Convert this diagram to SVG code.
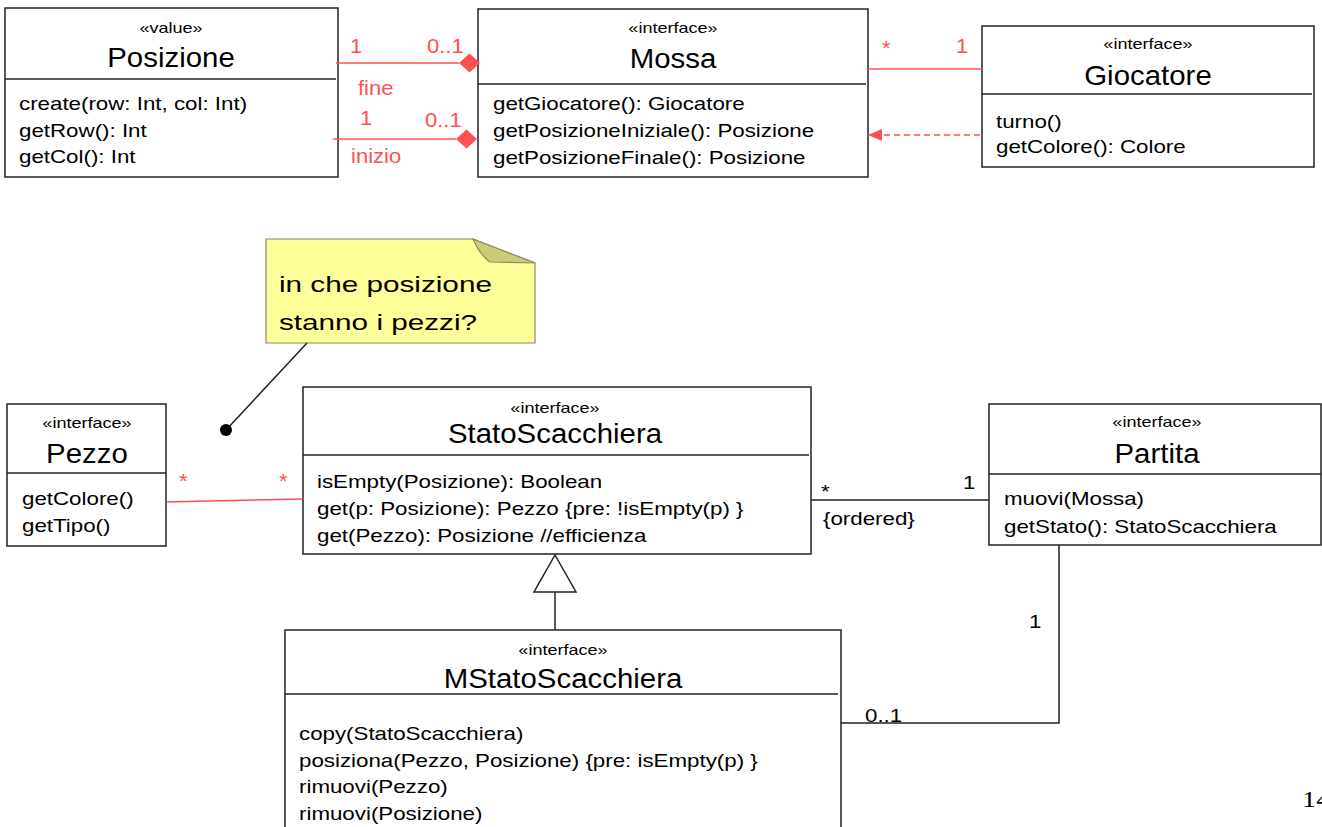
<svg xmlns="http://www.w3.org/2000/svg" width="1322" height="827" viewBox="0 0 1322 827">
  <style>
    text { font-family: "Liberation Sans", Arial, sans-serif; fill: #000; transform-box: fill-box; }
    .box { fill: #fff; stroke: #222; stroke-width: 1.5; }
    .div { stroke: #222; stroke-width: 1.5; }
    .st { font-size: 14px; text-anchor: middle; transform-origin: 50% 50%; transform: scaleX(1.29); }
    .nm { font-size: 27.5px; text-anchor: middle; transform-origin: 50% 50%; transform: scaleX(1.07); }
    .op { font-size: 18.6px; transform-origin: 0 50%; transform: scaleX(1.2); }
    .bl { font-size: 18.6px; transform-origin: 0 50%; transform: scaleX(1.2); }
    .rl { font-size: 19.5px; fill: #ff5050; transform-origin: 0 50%; transform: scaleX(1.13); }
    .nt { font-size: 22px; transform-origin: 0 50%; transform: scaleX(1.35); }
    .pg { font-family: "Liberation Serif", "Times New Roman", serif; font-size: 23.6px; transform-origin: 0 50%; transform: scaleX(1.2); }
    .red { stroke: #ff5050; stroke-width: 1.5; fill: none; }
    .blk { stroke: #222; stroke-width: 1.5; fill: none; }
  </style>
  <defs>
    <marker id="dep" viewBox="0 0 14 12" refX="14" refY="6" markerWidth="14" markerHeight="12" markerUnits="userSpaceOnUse" orient="auto">
      <path d="M0,0 L14,6 L0,12 Z" fill="#ff5050"/>
    </marker>
  </defs>

  <!-- Posizione -->
  <g id="posizione">
    <rect class="box" x="5" y="8" width="333" height="169"/>
    <line class="div" x1="5" y1="79" x2="336" y2="79"/>
    <text class="st" x="171" y="33">«value»</text>
    <text class="nm" x="171" y="67">Posizione</text>
    <text class="op" x="19" y="110">create(row: Int, col: Int)</text>
    <text class="op" x="19" y="137">getRow(): Int</text>
    <text class="op" x="19" y="163">getCol(): Int</text>
  </g>

  <!-- Mossa -->
  <g id="mossa">
    <rect class="box" x="478" y="9" width="390" height="168"/>
    <line class="div" x1="478" y1="84" x2="866" y2="84"/>
    <text class="st" x="673" y="33">«interface»</text>
    <text class="nm" x="673" y="68">Mossa</text>
    <text class="op" x="493" y="110">getGiocatore(): Giocatore</text>
    <text class="op" x="493" y="137">getPosizioneIniziale(): Posizione</text>
    <text class="op" x="493" y="164">getPosizioneFinale(): Posizione</text>
  </g>

  <!-- Giocatore -->
  <g id="giocatore">
    <rect class="box" x="982" y="26" width="332" height="141"/>
    <line class="div" x1="982" y1="94" x2="1312" y2="94"/>
    <text class="st" x="1148" y="49">«interface»</text>
    <text class="nm" x="1148" y="85">Giocatore</text>
    <text class="op" x="996" y="128">turno()</text>
    <text class="op" x="996" y="153">getColore(): Colore</text>
  </g>

  <!-- Nota -->
  <g id="nota">
    <path d="M266,239 H473 L535,263 V343 H266 Z" fill="#ffff99" stroke="#8a8a6a" stroke-width="1.2"/>
    <path d="M473,239 Q480,255 490,262 L535,263 Z" fill="#cccc77" stroke="#8a8a6a" stroke-width="1.2"/>
    <text class="nt" x="279" y="292">in che posizione</text>
    <text class="nt" x="279" y="330">stanno i pezzi?</text>
  </g>

  <!-- Pezzo -->
  <g id="pezzo">
    <rect class="box" x="7" y="404" width="159" height="142"/>
    <line class="div" x1="7" y1="473" x2="166" y2="473"/>
    <text class="st" x="87" y="428">«interface»</text>
    <text class="nm" x="87" y="463">Pezzo</text>
    <text class="op" x="22" y="505">getColore()</text>
    <text class="op" x="22" y="532">getTipo()</text>
  </g>

  <!-- StatoScacchiera -->
  <g id="statoScacchiera">
    <rect class="box" x="303" y="387" width="508" height="167"/>
    <line class="div" x1="303" y1="455" x2="809" y2="455"/>
    <text class="st" x="555" y="413">«interface»</text>
    <text class="nm" x="555" y="443">StatoScacchiera</text>
    <text class="op" x="317" y="488">isEmpty(Posizione): Boolean</text>
    <text class="op" x="317" y="515">get(p: Posizione): Pezzo {pre: !isEmpty(p) }</text>
    <text class="op" x="317" y="542">get(Pezzo): Posizione //efficienza</text>
  </g>

  <!-- Partita -->
  <g id="partita">
    <rect class="box" x="989" y="404" width="332" height="141"/>
    <line class="div" x1="989" y1="474" x2="1321" y2="474"/>
    <text class="st" x="1157" y="427">«interface»</text>
    <text class="nm" x="1157" y="463">Partita</text>
    <text class="op" x="1004" y="505">muovi(Mossa)</text>
    <text class="op" x="1004" y="533">getStato(): StatoScacchiera</text>
  </g>

  <!-- MStatoScacchiera -->
  <g id="mStatoScacchiera">
    <rect class="box" x="285" y="630" width="556" height="205"/>
    <line class="div" x1="285" y1="694" x2="838" y2="694"/>
    <text class="st" x="563" y="655">«interface»</text>
    <text class="nm" x="563" y="688">MStatoScacchiera</text>
    <text class="op" x="299" y="740">copy(StatoScacchiera)</text>
    <text class="op" x="299" y="767">posiziona(Pezzo, Posizione) {pre: isEmpty(p) }</text>
    <text class="op" x="299" y="793">rimuovi(Pezzo)</text>
    <text class="op" x="299" y="820">rimuovi(Posizione)</text>
  </g>

  <!-- Connectors -->
  <g id="connectors">
    <!-- Posizione fine / Mossa -->
    <line class="red" x1="336" y1="63" x2="459" y2="63"/>
    <path d="M459,63 L469.5,53.5 L480,63 L469.5,72.5 Z" fill="#ff5050"/>
    <text class="rl" x="350" y="53">1</text>
    <text class="rl" x="427" y="53">0..1</text>
    <text class="rl" x="358" y="95">fine</text>

    <!-- Posizione inizio / Mossa -->
    <line class="red" x1="333" y1="139" x2="456" y2="139"/>
    <path d="M456,139 L466.5,129.5 L477,139 L466.5,148.5 Z" fill="#ff5050"/>
    <text class="rl" x="360" y="125">1</text>
    <text class="rl" x="425" y="127">0..1</text>
    <text class="rl" x="351" y="163">inizio</text>

    <!-- Mossa / Giocatore -->
    <line class="red" x1="868" y1="69" x2="982" y2="69"/>
    <text class="rl" x="882" y="55">*</text>
    <text class="rl" x="956" y="53">1</text>

    <!-- Giocatore depends on Mossa -->
    <line class="red" x1="980" y1="135" x2="868" y2="135" stroke-dasharray="6 4" marker-end="url(#dep)"/>

    <!-- Pezzo / StatoScacchiera -->
    <line class="red" x1="166" y1="502" x2="303" y2="499"/>
    <text class="rl" x="179" y="488">*</text>
    <text class="rl" x="279" y="488">*</text>

    <!-- note anchor -->
    <line class="blk" x1="307" y1="343" x2="226" y2="430" stroke-width="1.2"/>
    <circle cx="226" cy="430" r="6" fill="#000"/>

    <!-- StatoScacchiera / Partita -->
    <line class="blk" x1="811" y1="500" x2="989" y2="500"/>
    <text class="bl" x="821" y="498">*</text>
    <text class="bl" x="823" y="525">{ordered}</text>
    <text class="bl" x="963" y="489">1</text>

    <!-- MStatoScacchiera generalizes StatoScacchiera -->
    <line class="blk" x1="555" y1="592" x2="555" y2="630"/>
    <path d="M555,555 L576,592 L534,592 Z" fill="#fff" stroke="#222" stroke-width="1.5"/>

    <!-- Partita / MStatoScacchiera -->
    <polyline class="blk" points="1059,545 1059,723 841,723"/>
    <text class="bl" x="1029" y="628">1</text>
    <text class="bl" x="865" y="722">0..1</text>
  </g>

  <text class="pg" x="1302" y="807">14</text>
</svg>
